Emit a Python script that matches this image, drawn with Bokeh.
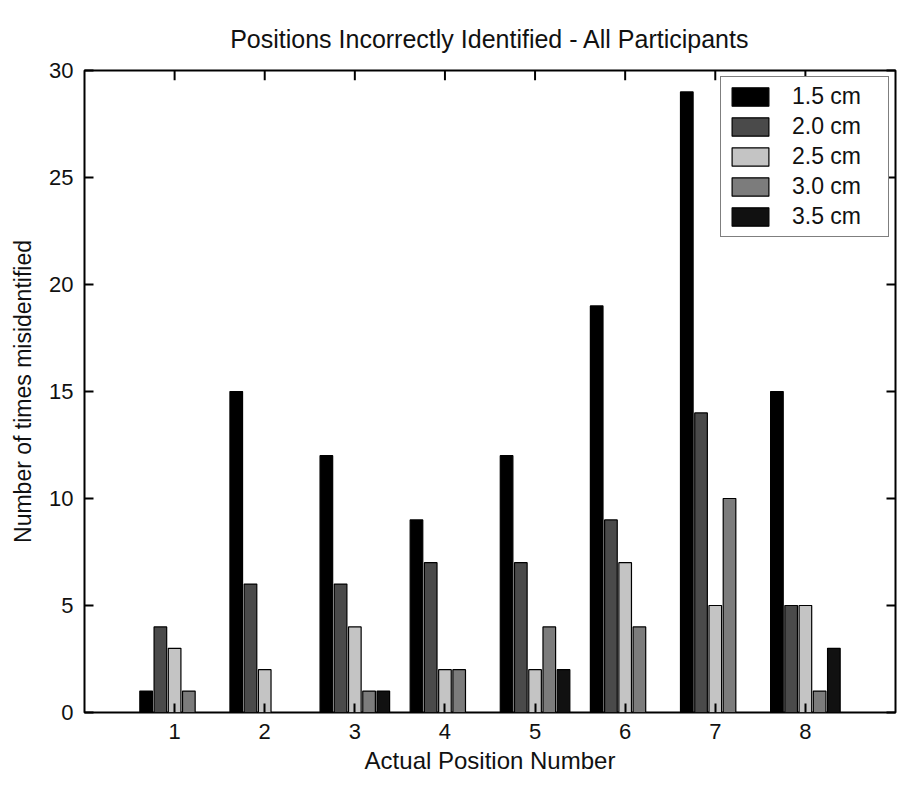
from bokeh.plotting import figure
from bokeh.models import (ColumnDataSource, LinearAxis, Legend, LegendItem,
                          FixedTicker)
from bokeh.transform import dodge
from bokeh.embed import file_html
from bokeh.resources import INLINE

positions = [1, 2, 3, 4, 5, 6, 7, 8]
series_names = ["1.5 cm", "2.0 cm", "2.5 cm", "3.0 cm", "3.5 cm"]
s15 = [1, 15, 12, 9, 12, 19, 29, 15]
s20 = [4, 6, 6, 7, 7, 9, 14, 5]
s25 = [3, 2, 4, 2, 2, 7, 5, 5]
s30 = [1, 0, 1, 2, 4, 4, 10, 1]
s35 = [0, 0, 1, 0, 2, 0, 0, 3]
y_ticks = [0, 5, 10, 15, 20, 25, 30]
title_text = "Positions Incorrectly Identified - All Participants"

colors = ["#000000", "#4a4a4a", "#c4c4c4", "#7c7c7c", "#111111"]
cols = ["s15", "s20", "s25", "s30", "s35"]

src = ColumnDataSource(dict(pos=positions, s15=s15, s20=s20, s25=s25, s30=s30, s35=s35))

FONT = "Liberation Sans"
Y_MAX = 30

p = figure(width=901, height=792, x_range=(0, 9), y_range=(0, Y_MAX),
           output_backend="svg", toolbar_location=None,
           min_border_left=84, min_border_right=6, min_border_top=70,
           min_border_bottom=80)
p.title = None

p.grid.visible = False
p.outline_line_color = "black"
p.outline_line_width = 2
p.background_fill_color = "white"
p.border_fill_color = "white"

spacing = 0.158
items = []
for i, (c, name, col) in enumerate(zip(cols, series_names, colors)):
    r = p.vbar(x=dodge("pos", (i - 2) * spacing, range=p.x_range), top=c,
               width=0.14, source=src, fill_color=col, line_color="black",
               line_width=1.2)
    items.append(LegendItem(label=name, renderers=[r]))

# inward tick marks along the top edge of the box
tick_len = 0.45
p.vbar(x=positions, top=[Y_MAX] * len(positions),
       bottom=[Y_MAX - tick_len] * len(positions), width=0.022,
       fill_color="black", line_color=None)

def style_axis(ax, show_labels=True):
    ax.major_tick_in = 9
    ax.major_tick_out = 0
    ax.minor_tick_in = 0
    ax.minor_tick_out = 0
    ax.axis_line_color = None
    ax.major_tick_line_color = "black"
    ax.major_tick_line_width = 2
    ax.major_label_text_font = FONT
    ax.major_label_text_font_size = "22px"
    ax.major_label_text_color = "#111111"
    ax.axis_label_text_font = FONT
    ax.axis_label_text_font_size = "24px"
    ax.axis_label_text_font_style = "normal"
    ax.axis_label_text_color = "#111111"
    if not show_labels:
        ax.major_label_text_font_size = "0px"
        ax.major_label_text_color = None
        ax.major_label_standoff = 0

p.xaxis.ticker = FixedTicker(ticks=positions)
p.yaxis.ticker = FixedTicker(ticks=y_ticks)
style_axis(p.xaxis[0])
style_axis(p.yaxis[0])
p.xaxis.axis_label = "Actual Position Number"
p.yaxis.axis_label = "Number of times misidentified"
p.yaxis.axis_label_text_font_size = "23px"
p.xaxis.major_label_standoff = 11
p.yaxis.major_label_standoff = 11
p.xaxis.axis_label_standoff = 5
p.yaxis.axis_label_standoff = 10

top_ax = LinearAxis(ticker=FixedTicker(ticks=positions))
style_axis(top_ax, False)
top_ax.major_tick_in = 0
top_ax.major_tick_line_color = None
top_ax.axis_label = title_text
top_ax.axis_label_text_font_size = "25px"
top_ax.axis_label_standoff = 18
p.add_layout(top_ax, "above")
right_ax = LinearAxis(ticker=FixedTicker(ticks=y_ticks))
style_axis(right_ax, False)
p.add_layout(right_ax, "right")

leg = Legend(items=items, location=(636, 475))
leg.border_line_color = "black"
leg.border_line_width = 1.5
leg.background_fill_color = "white"
leg.background_fill_alpha = 1
leg.label_text_font = FONT
leg.label_text_font_size = "23px"
leg.label_text_color = "#111111"
leg.glyph_width = 46
leg.glyph_height = 23
leg.label_height = 23
leg.label_width = 90
leg.spacing = 3
leg.padding = 6
leg.label_standoff = 19
leg.margin = 0
p.add_layout(leg, "center")

open("out.html", "w").write(file_html(p, INLINE))
